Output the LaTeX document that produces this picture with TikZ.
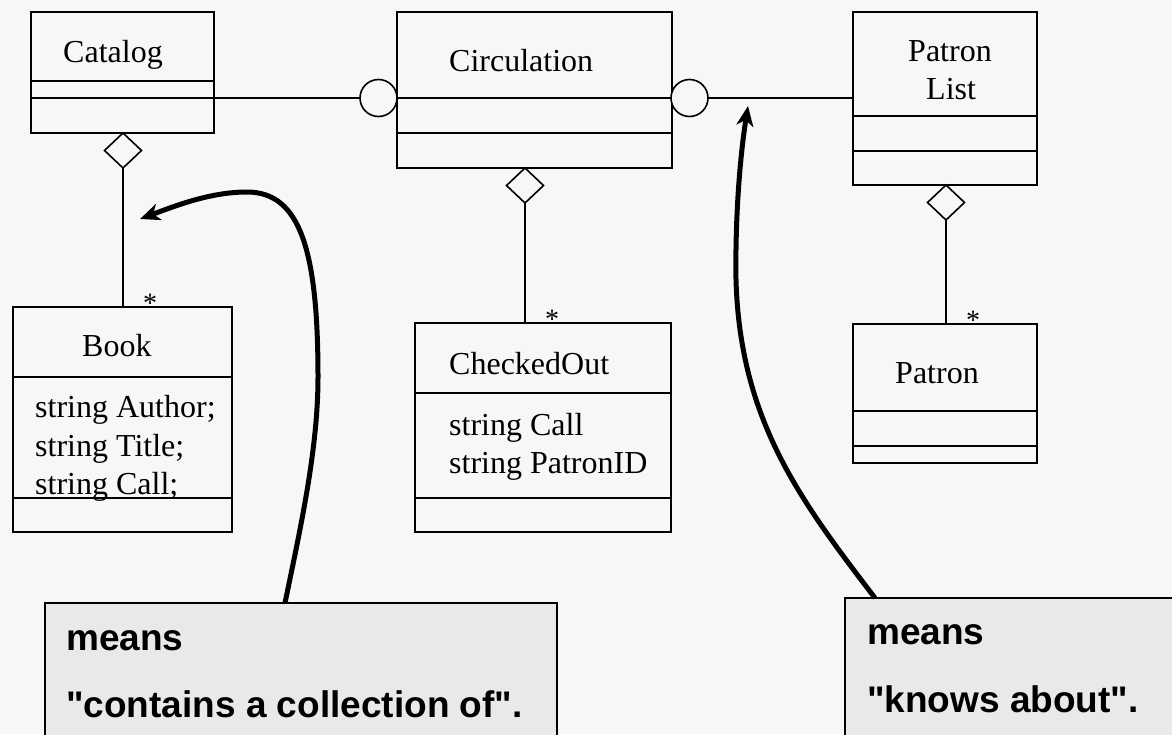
\documentclass[tikz,border=0pt]{standalone}
\usepackage{fontspec}
\setmainfont{Liberation Serif}
\newfontfamily\calfont{Liberation Sans}
\usetikzlibrary{shapes.geometric,arrows.meta,calc}
\definecolor{bgc}{HTML}{F7F7F7}
\definecolor{callfill}{HTML}{E9E9E9}
\tikzset{
  cls/.style={draw, line width=1.8pt, inner sep=0pt, outer sep=0pt, anchor=north west},
  part/.style={line width=1.8pt},
  conn/.style={line width=1.4pt},
  lolli/.style={circle, draw, line width=1.6pt, fill=bgc, minimum size=37pt, inner sep=0pt, outer sep=0pt},
  agg/.style={diamond, draw, line width=1.6pt, fill=bgc, minimum width=37pt, minimum height=35pt, inner sep=0pt, outer sep=0pt, anchor=north},
  ctext/.style={inner sep=0pt, anchor=base west, font=\fontsize{32}{38}\selectfont},
  mult/.style={inner sep=0pt, anchor=base, font=\fontsize{28}{32}\selectfont},
  callbox/.style={draw, fill=callfill, line width=2pt, inner sep=0pt, outer sep=0pt, anchor=north west, minimum height=220pt},
  calltext/.style={inner sep=0pt, anchor=base west, font=\calfont\bfseries\fontsize{37}{40}\selectfont},
  pointer/.style={line width=5pt, -{Stealth[length=20pt,width=17pt,inset=6pt]}},
}
\begin{document}
\begin{tikzpicture}[x=1pt,y=-1pt]
\useasboundingbox (0,0) rectangle (1172,734);
\fill[bgc] (0,0) rectangle (1172,734);
\clip (0,0) rectangle (1172,734);

% classes
\node[cls, minimum width=183pt, minimum height=121pt] (catalog) at (31,12) {};
\draw[part] ([yshift=-69pt]catalog.north west) -- ([yshift=-69pt]catalog.north east);
\draw[part] ([yshift=-86pt]catalog.north west) -- ([yshift=-86pt]catalog.north east);
\node[ctext] (tcatalog) at (63,62) {Catalog};

\node[cls, minimum width=275pt, minimum height=156pt] (circ) at (397,12) {};
\draw[part] ([yshift=-86pt]circ.north west) -- ([yshift=-86pt]circ.north east);
\draw[part] ([yshift=-121pt]circ.north west) -- ([yshift=-121pt]circ.north east);
\node[ctext] (tcirc) at (449,71) {Circulation};

\node[cls, minimum width=184pt, minimum height=173pt] (plist) at (853,12) {};
\draw[part] ([yshift=-104pt]plist.north west) -- ([yshift=-104pt]plist.north east);
\draw[part] ([yshift=-139pt]plist.north west) -- ([yshift=-139pt]plist.north east);
\node[ctext] (tplist1) at (908,61) {Patron};
\node[ctext] (tplist2) at (926,99) {List};

\node[cls, minimum width=219pt, minimum height=225pt] (book) at (13,307) {};
\draw[part] ([yshift=-70pt]book.north west) -- ([yshift=-70pt]book.north east);
\draw[part] ([yshift=-191pt]book.north west) -- ([yshift=-191pt]book.north east);
\node[ctext] (tbook) at (82,356) {Book};
\node[ctext] (tb1) at (35,417) {string Author;};
\node[ctext] (tb2) at (35,456) {string Title;};
\node[ctext] (tb3) at (35,494) {string Call;};

\node[cls, minimum width=256pt, minimum height=209pt] (chk) at (415,323) {};
\draw[part] ([yshift=-70pt]chk.north west) -- ([yshift=-70pt]chk.north east);
\draw[part] ([yshift=-175pt]chk.north west) -- ([yshift=-175pt]chk.north east);
\node[ctext] (tchk) at (449,374) {CheckedOut};
\node[ctext] (tc1) at (449,435) {string Call};
\node[ctext] (tc2) at (449,473) {string PatronID};

\node[cls, minimum width=184pt, minimum height=139pt] (patron) at (853,324) {};
\draw[part] ([yshift=-87pt]patron.north west) -- ([yshift=-87pt]patron.north east);
\draw[part] ([yshift=-122pt]patron.north west) -- ([yshift=-122pt]patron.north east);
\node[ctext] (tpatron) at (895,383) {Patron};

% lollipop associations
\node[lolli] (c1) at (378.5,98) {};
\node[lolli] (c2) at (689.5,98) {};
\draw[conn] (c1.west) -- (c1.west -| catalog.east);
\draw[conn] (c2.east) -- (c2.east -| plist.west);

% aggregations
\node[agg] (d1) at ([xshift=0.5pt]catalog.south) {};
\draw[conn] (d1.south) -- (d1.south |- book.north);
\node[agg] (d2) at ([xshift=-9.5pt]circ.south) {};
\draw[conn] (d2.south) -- (d2.south |- chk.north);
\node[agg] (d3) at ([xshift=1pt]plist.south) {};
\draw[conn] (d3.south) -- (d3.south |- patron.north);
\node[mult] (m1) at (150,312) {*};
\node[mult] (m2) at (552,328) {*};
\node[mult] (m3) at (973,329) {*};

% callouts
\node[callbox, minimum width=512pt] (call1) at (45,603) {};
\node[calltext] (k1a) at (66,650) {means};
\node[calltext] (k1b) at (66,717) {"contains a collection of".};
\node[callbox, minimum width=400pt] (call2) at (845,598) {};
\node[calltext] (k2a) at (867,644) {means};
\node[calltext] (k2b) at (867,712) {"knows about".};

\coordinate (s1) at ([xshift=240pt]call1.north west);
\coordinate (e1) at (140,219);
\coordinate (s2) at ([xshift=30pt]call2.north west);
\coordinate (e2) at (748,106);

\draw[pointer] (s1) .. controls (300,530) and (318,450) .. (318,377)
  .. controls (318,250) and (300,192) .. (247,192)
  .. controls (210,192) and (175,206) .. (e1);
\draw[pointer] (s2) .. controls (800,500) and (740,420) .. (736,280)
  .. controls (735,210) and (741,150) .. (e2);
\end{tikzpicture}
\end{document}
